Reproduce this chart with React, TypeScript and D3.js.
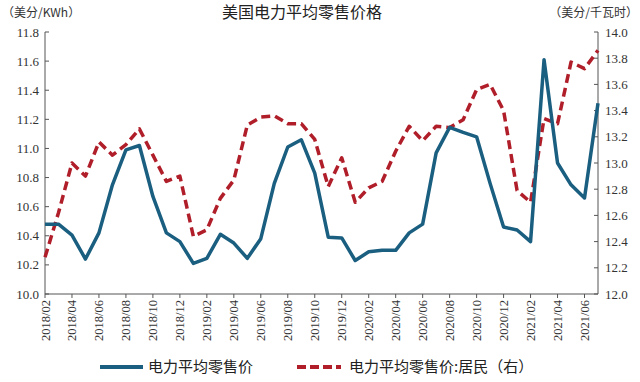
import React from "react";
import * as d3 from "d3";

const months: string[] = [
  "2018/02","2018/03","2018/04","2018/05","2018/06","2018/07","2018/08","2018/09","2018/10","2018/11","2018/12",
  "2019/01","2019/02","2019/03","2019/04","2019/05","2019/06","2019/07","2019/08","2019/09","2019/10","2019/11","2019/12",
  "2020/01","2020/02","2020/03","2020/04","2020/05","2020/06","2020/07","2020/08","2020/09","2020/10","2020/11","2020/12",
  "2021/01","2021/02","2021/03","2021/04","2021/05","2021/06","2021/07",
];

const avgPrice: number[] = [
  10.48, 10.48, 10.405, 10.24, 10.42, 10.75, 10.99, 11.02, 10.67, 10.42, 10.36,
  10.21, 10.245, 10.41, 10.35, 10.245, 10.38, 10.76, 11.01, 11.06, 10.83, 10.39, 10.385,
  10.23, 10.29, 10.30, 10.30, 10.42, 10.48, 10.97, 11.145, 11.11, 11.08, 10.76, 10.46,
  10.44, 10.36, 11.61, 10.90, 10.75, 10.66, 11.31,
];

const residentialPrice: number[] = [
  12.28, 12.62, 13.0, 12.90, 13.16, 13.06, 13.14, 13.26, 13.06, 12.86, 12.90,
  12.44, 12.49, 12.73, 12.87, 13.29, 13.35, 13.36, 13.30, 13.30, 13.18, 12.82, 13.04,
  12.70, 12.81, 12.86, 13.09, 13.28, 13.17, 13.28, 13.27, 13.33, 13.56, 13.60, 13.40,
  12.79, 12.70, 13.34, 13.30, 13.77, 13.72, 13.86,
];

const leftTicks: number[] = [10.0, 10.2, 10.4, 10.6, 10.8, 11.0, 11.2, 11.4, 11.6, 11.8];
const rightTicks: number[] = [12.0, 12.2, 12.4, 12.6, 12.8, 13.0, 13.2, 13.4, 13.6, 13.8, 14.0];

const title = "美国电力平均零售价格";
const leftUnit = "（美分/KWh）";
const rightUnit = "（美分/千瓦时）";
const legendA = "电力平均零售价";
const legendB = "电力平均零售价:居民（右）";

const BLUE = "#1a5e80";
const RED = "#b01e2a";
const AXIS = "#555";
const SERIF = "'Liberation Serif', 'DejaVu Serif', serif";
const CJK = "'Noto Sans CJK SC', sans-serif";

export default function App() {
  const W = 640, H = 382;
  const x0 = 45, x1 = 598, yTop = 32, yBot = 294;

  const x = d3.scalePoint<string>().domain(months).range([x0, x1]);
  const yL = d3.scaleLinear().domain([10.0, 11.8]).range([yBot, yTop]);
  const yR = d3.scaleLinear().domain([12.0, 14.0]).range([yBot, yTop]);

  const lineL = d3.line<number>().x((_, i) => x(months[i])!).y((d) => yL(d));
  const lineR = d3.line<number>().x((_, i) => x(months[i])!).y((d) => yR(d));

  const xTickMonths = months.filter((_, i) => i % 2 === 0);

  return (
    <svg width={W} height={H} style={{ position: "absolute", left: 0, top: 0, background: "#fff" }}>
      <rect x={0} y={0} width={W} height={H} fill="#fff" />
      {/* titles */}
      <text x={302} y={18} textAnchor="middle" fontFamily={CJK} fontSize={16} fill="#222">{title}</text>
      <text x={2} y={17} fontFamily={CJK} fontSize={12} fill="#333">{leftUnit}</text>
      <text x={638} y={17} textAnchor="end" fontFamily={CJK} fontSize={12} fill="#333">{rightUnit}</text>

      {/* left axis */}
      <line x1={x0} x2={x0} y1={yTop} y2={yBot} stroke={AXIS} strokeWidth={1} />
      {leftTicks.map((t) => (
        <g key={"l" + t}>
          <line x1={x0} x2={x0 + 4} y1={yL(t)} y2={yL(t)} stroke={AXIS} />
          <text x={x0 - 6} y={yL(t) + 4.5} textAnchor="end" fontFamily={SERIF} fontSize={13} fill="#333">{t.toFixed(1)}</text>
        </g>
      ))}
      {/* right axis */}
      <line x1={x1} x2={x1} y1={yTop} y2={yBot} stroke={AXIS} strokeWidth={1} />
      {rightTicks.map((t) => (
        <g key={"r" + t}>
          <line x1={x1 - 4} x2={x1} y1={yR(t)} y2={yR(t)} stroke={AXIS} />
          <text x={x1 + 7} y={yR(t) + 4.5} textAnchor="start" fontFamily={SERIF} fontSize={13} fill="#333">{t.toFixed(1)}</text>
        </g>
      ))}
      {/* x axis */}
      <line x1={x0} x2={x1} y1={yBot} y2={yBot} stroke={AXIS} strokeWidth={1} />
      {xTickMonths.map((m) => (
        <g key={m}>
          <line x1={x(m)!} x2={x(m)!} y1={yBot} y2={yBot + 4} stroke={AXIS} />
          <text
            transform={`translate(${x(m)! + 4.5},${yBot + 6}) rotate(-90)`}
            textAnchor="end"
            fontFamily={SERIF}
            fontSize={12.5}
            fill="#333"
          >
            {m}
          </text>
        </g>
      ))}

      {/* series */}
      <path d={lineR(residentialPrice)!} fill="none" stroke={RED} strokeWidth={3.5} strokeDasharray="9,5" strokeLinejoin="round" />
      <path d={lineL(avgPrice)!} fill="none" stroke={BLUE} strokeWidth={3.5} strokeLinejoin="round" />

      {/* legend */}
      <line x1={100} x2={143} y1={367} y2={367} stroke={BLUE} strokeWidth={4} />
      <text x={148} y={372} fontFamily={CJK} fontSize={15} fill="#222">{legendA}</text>
      <line x1={297} x2={341} y1={367} y2={367} stroke={RED} strokeWidth={4} strokeDasharray="9,4" />
      <text x={349} y={372} fontFamily={CJK} fontSize={15} fill="#222">{legendB}</text>
    </svg>
  );
}
